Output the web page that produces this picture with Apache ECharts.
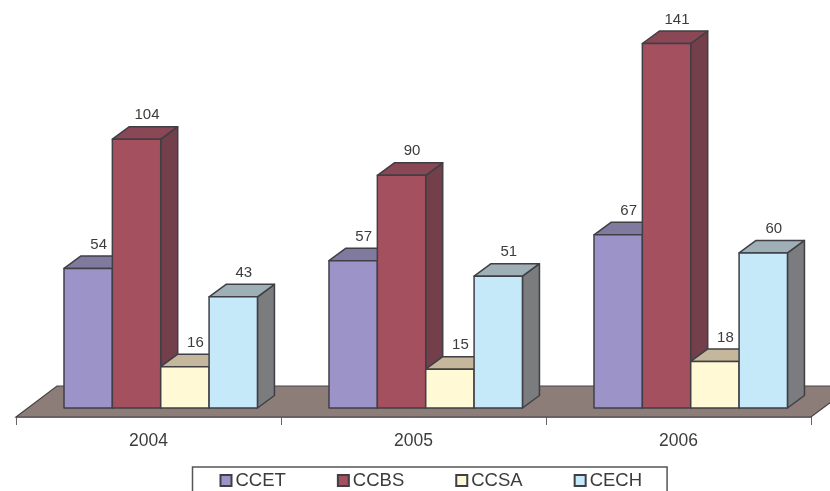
<!DOCTYPE html>
<html><head><meta charset="utf-8">
<style>html,body{margin:0;padding:0;background:#fff}#c{width:830px;height:491px}</style>
<script src="https://cdn.jsdelivr.net/npm/echarts@6/dist/echarts.min.js"></script>
</head><body><div id="c"></div>
<script>
const years = ['2004', '2005', '2006'];
const ccet = [54, 57, 67];
const ccbs = [104, 90, 141];
const ccsa = [16, 15, 18];
const cech = [43, 51, 60];
const seriesNames = ['CCET', 'CCBS', 'CCSA', 'CECH'];
const frontColors = ['#9C94C8', '#A5505F', '#FFF9D6', '#C6E9FA'];
const topColors = ['#807A9F', '#8A4755', '#C4B79B', '#9EB0B6'];
const sideColors = ['#6B6690', '#733F4A', '#A09E88', '#7A7C7E'];

const EDGE = '#3F3F45', DX = 17, DY = 12.5, FONT = '"Liberation Sans", Arial, sans-serif', TEXT = '#3C3C3C';

function barSeries(name, idx, values) {
  return {
    name, type: 'custom', clip: false,
    itemStyle: { color: frontColors[idx], borderColor: EDGE, borderWidth: 1 },
    data: values.map((v, i) => [i, v]),
    encode: { x: 0, y: 1 },
    renderItem(params, api) {
      const base = api.coord([api.value(0), 0]);
      const top = api.coord([api.value(0), api.value(1)]);
      const band = api.size([1, 0])[0];
      const w = band * 0.1825;
      const x0 = base[0] + band * 0.045 + (idx - 2) * w + 0.3;
      const x1 = x0 + w, yb = base[1], yt = top[1];
      const line = { stroke: EDGE, lineWidth: 1.5, lineJoin: 'round' };
      const poly = (pts, fill) => ({ type: 'polygon', shape: { points: pts }, style: Object.assign({ fill }, line) });
      return {
        type: 'group',
        children: [
          poly([[x1, yb], [x1 + DX, yb - DY], [x1 + DX, yt - DY], [x1, yt]], sideColors[idx]),
          poly([[x0, yt], [x0 + DX, yt - DY], [x1 + DX, yt - DY], [x1, yt]], topColors[idx]),
          poly([[x0, yb], [x0, yt], [x1, yt], [x1, yb]], frontColors[idx]),
          { type: 'text', style: { text: String(api.value(1)), x: x0 + w / 2 + 10.5, y: yt - DY - 11.5,
            align: 'center', verticalAlign: 'middle', fill: TEXT, font: '15px ' + FONT } }
        ]
      };
    }
  };
}

const floorSeries = {
  type: 'custom', silent: true, clip: false, data: [[0, 0]], encode: { x: 0, y: 1 },
  renderItem(params) {
    const g = params.coordSys, yb = g.y + g.height;
    return { type: 'polygon',
      shape: { points: [[g.x, yb + 9], [g.x + 41, yb - 22], [g.x + g.width + 41, yb - 22], [g.x + g.width, yb + 9]] },
      style: { fill: '#8C7D78', stroke: '#444', lineWidth: 1.2 } };
  }
};

const chart = echarts.init(document.getElementById('c'), null, { renderer: 'canvas' });
chart.setOption({
  animation: false,
  backgroundColor: '#fff',
  grid: { left: 16, right: 19, top: 20.25, bottom: 83 },
  xAxis: {
    type: 'category', data: years, offset: 9,
    axisLine: { onZero: false, lineStyle: { color: '#888', width: 1 } },
    axisTick: { show: true, length: 8, alignWithLabel: false, lineStyle: { color: '#666' } },
    axisLabel: { color: TEXT, fontSize: 17.5, fontFamily: FONT, margin: 15 }
  },
  yAxis: { type: 'value', min: 0, max: 150, show: false, splitLine: { show: false } },
  legend: {
    data: seriesNames, left: 192.5, top: 467, orient: 'horizontal',
    itemWidth: 11, itemHeight: 11, itemGap: 51, icon: 'rect',
    padding: [4, 25, 12, 27], borderColor: '#555', borderWidth: 1.5,
    textStyle: { color: TEXT, fontSize: 18.5, fontFamily: FONT, padding: [0, 0, 0, -1] }
  },
  series: [floorSeries,
    barSeries('CCET', 0, ccet), barSeries('CCBS', 1, ccbs),
    barSeries('CCSA', 2, ccsa), barSeries('CECH', 3, cech)]
});
</script></body></html>
